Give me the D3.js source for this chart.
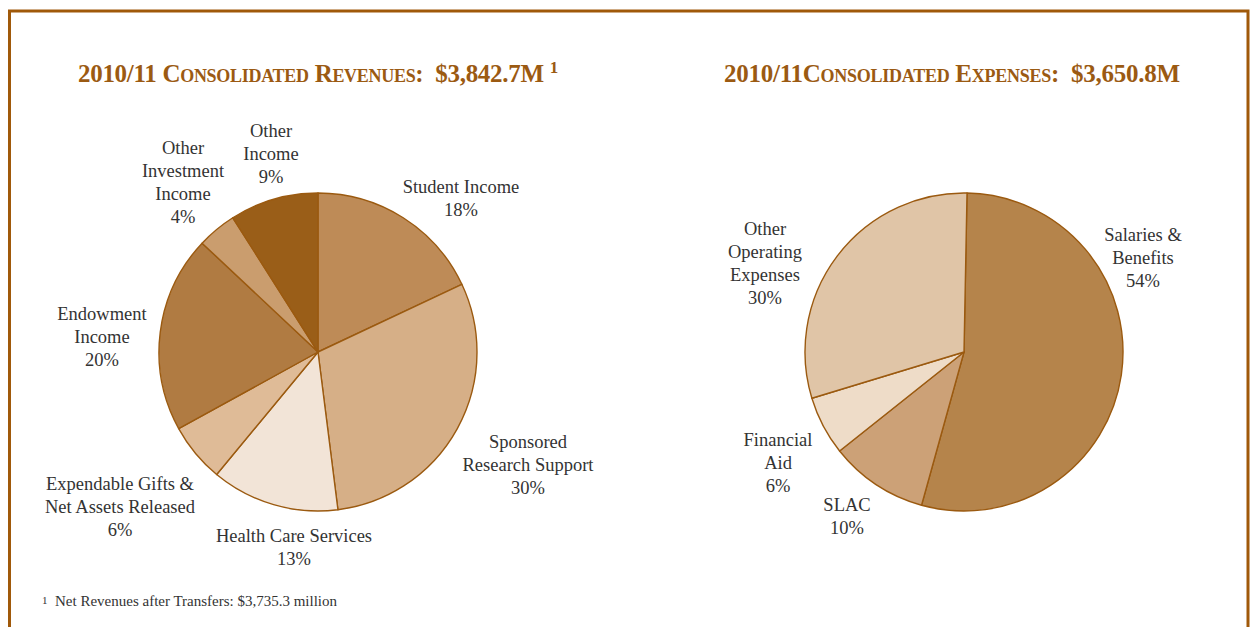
<!DOCTYPE html>
<html>
<head>
<meta charset="utf-8">
<script src="https://cdn.jsdelivr.net/npm/d3@7"></script>
<style>
  html, body { margin: 0; padding: 0; background: #fff; }
  svg { display: block; }
  .lbl { font-family: "Liberation Serif", "DejaVu Serif", serif; font-size: 18.5px; fill: #333; }
  .title { font-family: "Liberation Serif", "DejaVu Serif", serif; font-weight: bold; font-size: 25px; fill: #9b5a12; font-variant: small-caps; }
  .note { font-family: "Liberation Serif", "DejaVu Serif", serif; font-size: 15px; fill: #333; }
</style>
</head>
<body>
<svg id="chart" width="1250" height="627"></svg>
<script>
// Revenue breakdown (percent of total), clockwise from 12 o'clock
const revenueCategories = ["Student Income", "Sponsored Research Support", "Health Care Services",
  "Expendable Gifts & Net Assets Released", "Endowment Income", "Other Investment Income", "Other Income"];
const revenueValues = [18, 30, 13, 6, 20, 4, 9];
const revenueLabelLines = [
  ["Student Income", "18%"],
  ["Sponsored", "Research Support", "30%"],
  ["Health Care Services", "13%"],
  ["Expendable Gifts &", "Net Assets Released", "6%"],
  ["Endowment", "Income", "20%"],
  ["Other", "Investment", "Income", "4%"],
  ["Other", "Income", "9%"]
];

// Expense breakdown (percent of total), clockwise from 12 o'clock
const expenseCategories = ["Salaries & Benefits", "SLAC", "Financial Aid", "Other Operating Expenses"];
const expenseValues = [54, 10, 6, 30];
const expenseLabelLines = [
  ["Salaries &", "Benefits", "54%"],
  ["SLAC", "10%"],
  ["Financial", "Aid", "6%"],
  ["Other", "Operating", "Expenses", "30%"]
];

// Slice fills
const revenueColors = ["#be8b57", "#d6af87", "#f2e4d7", "#dfbb97", "#b07b42", "#ca9d6e", "#9a5e18"];
const expenseColors = ["#b5844b", "#cca177", "#eedcc8", "#e0c5a7"];

// Label anchor (centre x, first line y) for each slice
const revenueLabelPos = [[461, 193], [528, 448], [294, 542], [120, 490], [102, 320], [183, 154], [271, 137]];
const expenseLabelPos = [[1143, 241], [847, 511], [778, 446], [765, 235]];

const svg = d3.select("#chart");
const brown = "#9b5a10";

// Frame
svg.append("path")
  .attr("d", "M9.5,627 L9.5,11 L1248,11 L1248,627")
  .attr("fill", "none").attr("stroke", "#a0590a").attr("stroke-width", 3);

function drawPie(cx, cy, r, values, colors, lines, pos, startOffset) {
  const pie = d3.pie().sort(null).value(d => d)
    .startAngle(startOffset).endAngle(startOffset + 2 * Math.PI);
  const arc = d3.arc().innerRadius(0).outerRadius(r);
  const g = svg.append("g").attr("transform", `translate(${cx},${cy})`);
  g.selectAll("path").data(pie(values)).join("path")
    .attr("d", arc)
    .attr("fill", (d, i) => colors[i])
    .attr("stroke", brown).attr("stroke-width", 1.4).attr("stroke-linejoin", "round");

  const lg = svg.append("g");
  lines.forEach((ls, i) => {
    const t = lg.append("text").attr("class", "lbl").attr("text-anchor", "middle")
      .attr("x", pos[i][0]).attr("y", pos[i][1]);
    ls.forEach((s, k) => {
      t.append("tspan").attr("x", pos[i][0]).attr("dy", k === 0 ? 0 : 23).text(s);
    });
  });
}

drawPie(318, 352, 159, revenueValues, revenueColors, revenueLabelLines, revenueLabelPos, 0);
drawPie(964, 352, 159, expenseValues, expenseColors, expenseLabelLines, expenseLabelPos, 0.019);

// Titles
const t1 = svg.append("text").attr("class", "title").attr("x", 78).attr("y", 82);
t1.append("tspan").attr("textLength", 466).attr("lengthAdjust", "spacing")
  .text("2010/11 Consolidated Revenues:\u00a0 $3,842.7M");
t1.append("tspan").attr("font-size", 17).attr("dx", 6).attr("dy", -9).text("1");

svg.append("text").attr("class", "title").attr("x", 724).attr("y", 82)
  .attr("textLength", 456).attr("lengthAdjust", "spacing")
  .text("2010/11Consolidated Expenses:\u00a0 $3,650.8M");

// Footnote
const fn = svg.append("text").attr("class", "note").attr("x", 42).attr("y", 606);
fn.append("tspan").attr("font-size", 11).attr("dy", -2).text("1");
fn.append("tspan").attr("dy", 2).text("\u00a0 Net Revenues after Transfers: $3,735.3 million");
</script>
</body>
</html>
